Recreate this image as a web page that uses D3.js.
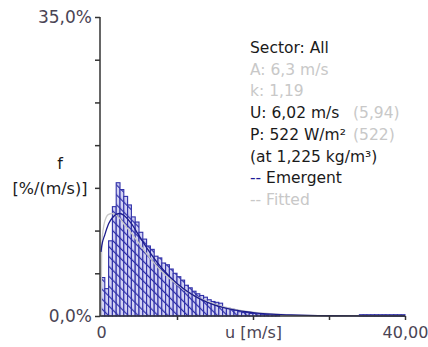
<!DOCTYPE html>
<html>
<head>
<meta charset="utf-8">
<script src="https://cdn.jsdelivr.net/npm/d3@7"></script>
<style>
  body { margin: 0; background: #fff; }
  svg text { font-family: "DejaVu Sans", sans-serif; }
</style>
</head>
<body>
<div id="chart"></div>
<script>
// histogram (emergent), 0.5 m/s bins, value in %/(m/s)
const binStarts = d3.range(0, 40, 0.5);
const binValues = [
  4.5, 3.2, 8.8, 12.8, 15.6, 14.8, 14.0, 13.0, 11.6, 11.0,
  9.8, 9.0, 8.2, 7.8, 7.0, 6.8, 6.2, 6.0, 5.5, 5.0,
  4.6, 4.2, 3.6, 3.3, 2.9, 2.6, 2.4, 2.2, 1.9, 1.7,
  1.6, 1.5, 1.0, 0.9, 0.8, 0.7, 0.5, 0.4, 0.4, 0.3,
  0.3, 0.25, 0.2, 0.2, 0.2, 0.15, 0.15, 0, 0, 0,
  0, 0, 0, 0, 0, 0, 0, 0, 0, 0,
  0, 0, 0, 0, 0, 0, 0, 0, 0.15, 0.15,
  0.15, 0.15, 0.15, 0.15, 0.15, 0.15, 0.15, 0.15, 0.15, 0.15
];

// curves (u in m/s, f in %)
const curveU = [0, 0.1, 0.5, 1, 1.5, 2, 2.5, 3, 4, 5, 6, 8, 10, 12, 14, 16, 20, 25, 30, 40];
const fittedF = [0, 8.5, 11.1, 11.9, 12.0, 11.8, 11.4, 10.8, 9.7, 8.5, 7.3, 5.2, 3.7, 2.5, 1.7, 1.1, 0.45, 0.14, 0.04, 0];
const emergentF = [7.5, 8.2, 9.5, 10.8, 11.5, 11.9, 12.0, 11.8, 10.8, 9.4, 8.0, 5.6, 3.8, 2.5, 1.6, 1.0, 0.4, 0.12, 0.03, 0];

const yTicks = [0, 5, 10, 15, 20, 25, 30, 35];
const xTicks = [0, 10, 20, 30, 40];

const legendLines = [
  { parts: [{ t: 'Sector: All', c: '#1a1a1a' }] },
  { parts: [{ t: 'A: 6,3 m/s', c: '#c8c8c8' }] },
  { parts: [{ t: 'k: 1,19', c: '#c8c8c8' }] },
  { parts: [{ t: 'U: 6,02 m/s', c: '#1a1a1a' }, { t: '(5,94)', c: '#c8c8c8', tab: true }] },
  { parts: [{ t: 'P: 522 W/m²', c: '#1a1a1a' }, { t: '(522)', c: '#c8c8c8', tab: true }] },
  { parts: [{ t: '(at 1,225 kg/m³)', c: '#1a1a1a' }] },
  { parts: [{ t: '--', c: '#1c1c9a' }, { t: ' Emergent', c: '#1a1a1a' }] },
  { parts: [{ t: '-- Fitted', c: '#c8c8c8' }] }
];

const width = 428, height = 347;

const svg = d3.select('#chart')
  .append('svg')
    .attr('width', width)
    .attr('height', height);

const x = d3.scaleLinear().domain([0, 40]).range([101, 405]);
const y = d3.scaleLinear().domain([0, 35]).range([316, 17]);

// hatch pattern for the bars
const defs = svg.append('defs');
const pat = defs.append('pattern')
  .attr('id', 'hatch')
  .attr('patternUnits', 'userSpaceOnUse')
  .attr('width', 7)
  .attr('height', 7)
  .attr('patternTransform', 'rotate(-45)');
pat.append('rect').attr('width', 7).attr('height', 7).attr('fill', '#d2d2f4');
pat.append('line')
  .attr('x1', 0).attr('y1', 0).attr('x2', 0).attr('y2', 7)
  .attr('stroke', '#2a2aa6').attr('stroke-width', 2.4);

// bars
const bars = binStarts.map((s, i) => ({ s: s, v: binValues[i] })).filter(d => d.v > 0);

svg.append('g')
  .selectAll('rect')
  .data(bars)
  .enter()
  .append('rect')
    .attr('x', d => x(d.s))
    .attr('y', d => y(d.v))
    .attr('width', d => x(d.s + 0.5) - x(d.s))
    .attr('height', d => y(0) - y(d.v))
    .attr('fill', 'url(#hatch)')
    .attr('stroke', '#3030a8')
    .attr('stroke-width', 1.1);

// curves
const fitted = curveU.map((u, i) => [u, fittedF[i]]);
const emergent = curveU.map((u, i) => [u, emergentF[i]]);
const line = d3.line().x(d => x(d[0])).y(d => y(d[1])).curve(d3.curveMonotoneX);

svg.append('path')
  .datum(fitted)
  .attr('fill', 'none')
  .attr('stroke', '#c8c8c8')
  .attr('stroke-width', 1.3)
  .attr('d', line);

svg.append('path')
  .datum(emergent)
  .attr('fill', 'none')
  .attr('stroke', '#1c1c8c')
  .attr('stroke-width', 1.3)
  .attr('d', line);

// y axis
const yAxis = d3.axisLeft(y)
  .tickValues(yTicks)
  .tickSize(5)
  .tickFormat(d => d === 0 ? '0,0%' : (d === 35 ? '35,0%' : ''));

const gy = svg.append('g')
  .attr('transform', 'translate(100,0)')
  .call(yAxis);
gy.select('.domain').attr('stroke', '#333').attr('stroke-width', 1.5).attr('d', 'M0,' + y(35) + 'V' + y(0));
gy.selectAll('.tick line').attr('stroke', '#333').attr('stroke-width', 1.5);
gy.selectAll('.tick text')
  .attr('x', -8)
  .attr('fill', '#4a4454')
  .style('font-size', '17px');

// x axis
const xAxis = d3.axisBottom(x)
  .tickValues(xTicks)
  .tickSize(4)
  .tickFormat(d => d === 0 ? '0' : (d === 20 ? 'u [m/s]' : (d === 40 ? '40,00' : '')));

const gx = svg.append('g')
  .attr('transform', 'translate(0,316)')
  .call(xAxis);
gx.select('.domain').attr('stroke', '#333').attr('stroke-width', 1.5).attr('d', 'M100,0H' + x(40));
gx.selectAll('.tick line').attr('stroke', '#333').attr('stroke-width', 1.5)
  .attr('y2', d => d === 0 ? 0 : 4);
gx.selectAll('.tick text')
  .attr('y', 11)
  .attr('fill', '#4a4454')
  .style('font-size', '16px');

// y label
svg.append('text')
  .attr('x', 60).attr('y', 169)
  .attr('text-anchor', 'middle')
  .attr('fill', '#1a1a1a')
  .style('font-size', '16px')
  .text('f');
svg.append('text')
  .attr('x', 50).attr('y', 194)
  .attr('text-anchor', 'middle')
  .attr('fill', '#1a1a1a')
  .style('font-size', '16px')
  .text('[%/(m/s)]');

// info legend
const legend = svg.append('g').attr('transform', 'translate(250,0)');
legendLines.forEach((ln, i) => {
  const t = legend.append('text')
    .attr('x', 0)
    .attr('y', 53 + i * 21.7)
    .style('font-size', '15.5px');
  ln.parts.forEach(p => {
    const ts = t.append('tspan').attr('fill', p.c).text(p.t);
    if (p.tab) ts.attr('x', 103);
  });
});
</script>
</body>
</html>
